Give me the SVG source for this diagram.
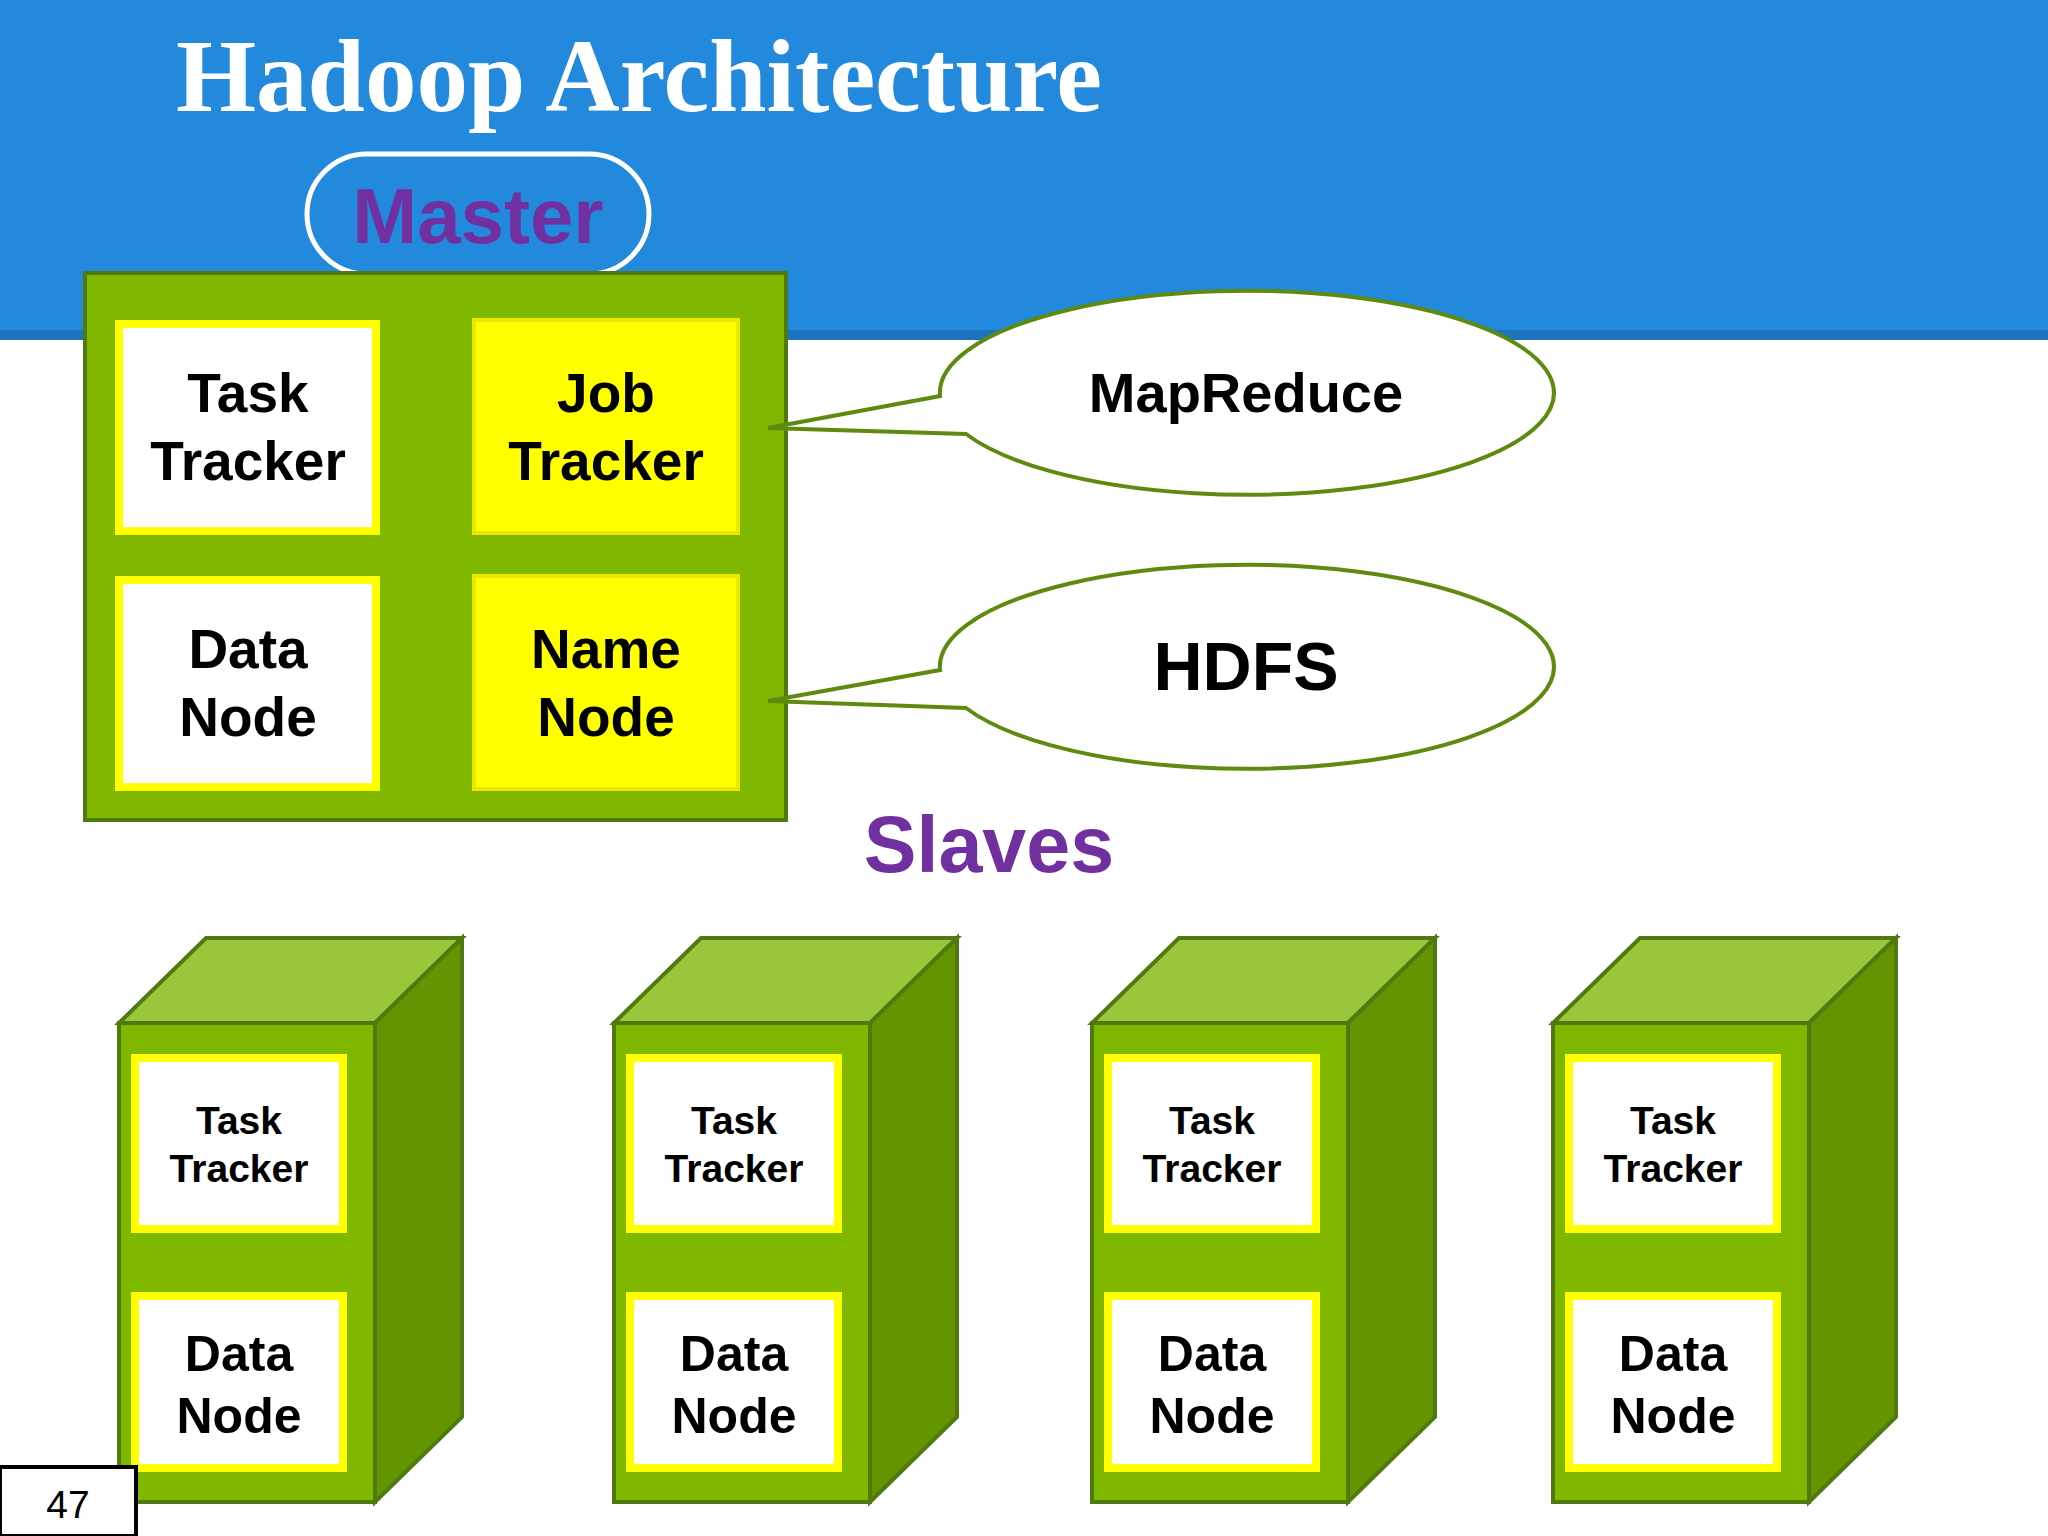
<svg xmlns="http://www.w3.org/2000/svg" width="2048" height="1536" viewBox="0 0 2048 1536">
<style>
.s{font-family:"Liberation Sans",Arial,sans-serif;font-weight:bold;text-anchor:middle;fill:#000}
.g{fill:#80B800;stroke:#4F7A10;stroke-width:4}
.top{fill:#9BC63C;stroke:#4F7A10;stroke-width:4}
.side{fill:#649400;stroke:#4F7A10;stroke-width:4}
.w{fill:#fff;stroke:#FFFF00;stroke-width:8}
.y{fill:#FFFF00;stroke:#E8E800;stroke-width:4}
.ell{fill:#fff;stroke:#5E8A10;stroke-width:4}
</style>
<rect width="2048" height="1536" fill="#fff"/>
<rect x="0" y="0" width="2048" height="334" fill="#2389DC"/>
<rect x="0" y="330" width="2048" height="10" fill="#1F72BC"/>
<text x="176" y="111" font-family="'Liberation Serif','Times New Roman',serif" font-weight="bold" font-size="103" fill="#fff">Hadoop Architecture</text>
<g id="master-label"><rect x="307" y="154" width="342" height="120" rx="60" fill="#2389DC" stroke="#fff" stroke-width="5"/>
<text class="s" x="478" y="243" font-size="78" style="fill:#7030A0">Master</text></g>
<g id="master"><rect class="g" x="85" y="273" width="701" height="547"/>
<g id="m-task"><rect class="w" x="119" y="324" width="257" height="207"/><text class="s" x="248" y="412" font-size="55">Task</text><text class="s" x="248" y="480" font-size="55">Tracker</text></g>
<g id="m-job"><rect class="y" x="474" y="320" width="264" height="213"/><text class="s" x="606" y="412" font-size="55">Job</text><text class="s" x="606" y="480" font-size="55">Tracker</text></g>
<g id="m-data"><rect class="w" x="119" y="580" width="257" height="207"/><text class="s" x="248" y="668" font-size="55">Data</text><text class="s" x="248" y="736" font-size="55">Node</text></g>
<g id="m-name"><rect class="y" x="474" y="576" width="264" height="213"/><text class="s" x="606" y="668" font-size="55">Name</text><text class="s" x="606" y="736" font-size="55">Node</text></g>
</g>
<g id="connectors">
<path class="ell" d="M940,396 A307,102 0 1 1 966,434 L768,428 Z"/>
<path class="ell" d="M940,670 A307,102 0 1 1 966,708 L768,701 Z"/>
</g>
<g id="mapreduce"><text class="s" x="1246" y="412" font-size="56">MapReduce</text></g>
<g id="hdfs"><text class="s" x="1246" y="690" font-size="68">HDFS</text></g>
<text class="s" x="989" y="872" font-size="79" style="fill:#7030A0">Slaves</text>
<defs>
<g id="cube">
<polygon class="top" points="0,85 256,85 343,0 87,0"/>
<polygon class="side" points="256,85 343,0 343,479 256,564"/>
<rect class="g" x="0" y="85" width="256" height="479"/>
<rect class="w" x="16" y="120" width="208" height="171"/>
<rect class="w" x="16" y="358" width="208" height="172"/>
<text class="s" x="120" y="196" font-size="39">Task</text>
<text class="s" x="120" y="244" font-size="39">Tracker</text>
<text class="s" x="120" y="433" font-size="50">Data</text>
<text class="s" x="120" y="495" font-size="50">Node</text>
</g>
</defs>
<g id="slave1"><use href="#cube" x="119" y="938"/></g>
<g id="slave2"><use href="#cube" x="614" y="938"/></g>
<g id="slave3"><use href="#cube" x="1092" y="938"/></g>
<g id="slave4"><use href="#cube" x="1553" y="938"/></g>
<rect x="0" y="1467" width="136" height="69" fill="#fff" stroke="#000" stroke-width="4"/>
<text x="68" y="1518" font-family="'Liberation Sans',Arial,sans-serif" font-size="39" text-anchor="middle">47</text>
</svg>
